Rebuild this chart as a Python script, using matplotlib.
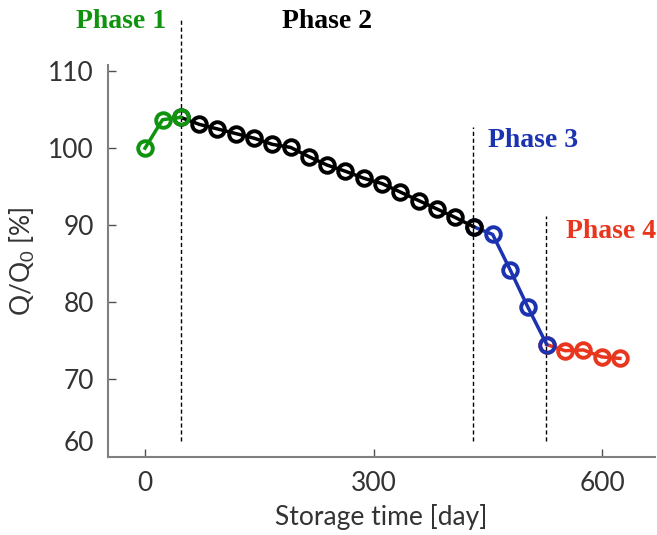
import numpy as np
import matplotlib
matplotlib.use("Agg")
import matplotlib.pyplot as plt
import matplotlib.transforms as mtransforms

# 容量維持率のデータ（フェーズごと）
day_p1 = [0, 23, 47]
q_p1 = [100.0, 103.7, 104.0]

day_p2 = [47, 71, 95, 119, 143, 167, 191, 215, 239, 263, 287, 311, 335, 359, 383, 407, 431]
q_p2 = [104.0, 103.1, 102.5, 101.9, 101.3, 100.5, 100.1, 98.9, 97.8, 97.0, 96.1, 95.4,
        94.3, 93.2, 92.1, 91.0, 89.8]

day_p3 = [431, 456, 479, 502, 527]
q_p3 = [89.8, 88.8, 84.2, 79.4, 74.5]

day_p4 = [527, 551, 575, 599, 623]
q_p4 = [74.5, 73.7, 73.8, 72.9, 72.7]

# フェーズ境界
boundaries = [47, 430, 526]
boundary_top = [116.9, 102.7, 91.2]

green = '#109410'
blue = '#1b33b0'
red = '#e8361f'

plt.rcParams['font.family'] = ['Lato', 'DejaVu Sans']
plt.rcParams['mathtext.fontset'] = 'custom'
plt.rcParams['mathtext.rm'] = 'Lato'

fig = plt.figure(figsize=(6.57, 5.35), dpi=100)
ax = fig.add_axes([0.1644, 0.1458, 0.8326, 0.7327])

kw = dict(marker='o', markersize=10.5, markerfacecolor='none', markeredgewidth=2.8, linewidth=2.5)
# 後のフェーズを先に描く（境界点は前のフェーズの丸が上にくる）
ax.plot(day_p4, q_p4, color=red, zorder=2, **kw)
ax.plot(day_p3, q_p3, color=blue, zorder=3, **kw)
ax.plot(day_p2, q_p2, color='black', zorder=4, **kw)
ax.plot(day_p1, q_p1, color=green, zorder=5, **kw)

for b, top in zip(boundaries, boundary_top):
    ax.plot([b, b], [62, top], color='black', linestyle=(0, (3, 2)), linewidth=1, clip_on=False, zorder=1)

bold = dict(family=['Liberation Serif', 'DejaVu Serif'], fontweight='bold', fontsize=20,
            ha='center', va='center')
ax.text(-31, 116.5, 'Phase 1', color=green, clip_on=False, **bold)
ax.text(239, 116.5, 'Phase 2', color='black', clip_on=False, **bold)
ax.text(509, 101.0, 'Phase 3', color=blue, clip_on=False, **bold)
ax.text(611, 89.2, 'Phase 4', color=red, clip_on=False, **bold)

ax.set_xlim(-48.5, 669)
ax.set_ylim(59.9, 110.8)
ax.set_xticks([0, 300, 600])
ax.set_yticks([60, 70, 80, 90, 100, 110])

for s in ['top', 'right']:
    ax.spines[s].set_visible(False)
for s in ['left', 'bottom']:
    ax.spines[s].set_color('#808080')
    ax.spines[s].set_linewidth(1.5)

ax.tick_params(direction='in', length=6, width=1, color='#505050',
               labelsize=19, labelcolor='#333333', pad=10)

# 60 のラベルは軸線と重ならないよう少し上に
lab60 = ax.get_yticklabels()[0]
lab60.set_transform(lab60.get_transform() + mtransforms.ScaledTranslation(0, 15 / 100, fig.dpi_scale_trans))
ax.yaxis.get_major_ticks()[0].tick1line.set_visible(False)

ax.set_xlabel('Storage time [day]', fontsize=19, color='#333333', labelpad=6)
ax.set_ylabel('Q/Q$_0$ [%]', fontsize=19, color='#333333', labelpad=8)

fig.savefig('out.png', dpi=100)
